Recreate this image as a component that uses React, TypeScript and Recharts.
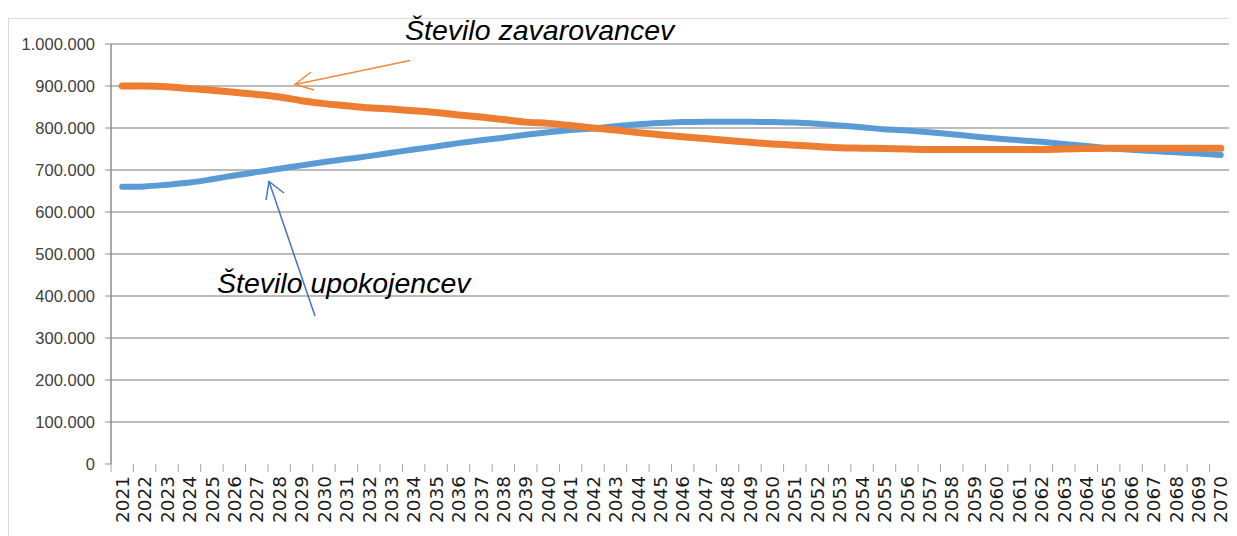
import { LineChart, Line, XAxis, YAxis, CartesianGrid } from "recharts"

// leta 2021–2070
const years = [
    "2021", "2022", "2023", "2024", "2025", "2026", "2027", "2028", "2029", "2030",
    "2031", "2032", "2033", "2034", "2035", "2036", "2037", "2038", "2039", "2040",
    "2041", "2042", "2043", "2044", "2045", "2046", "2047", "2048", "2049", "2050",
    "2051", "2052", "2053", "2054", "2055", "2056", "2057", "2058", "2059", "2060",
    "2061", "2062", "2063", "2064", "2065", "2066", "2067", "2068", "2069", "2070",
]

// število zavarovancev (v tisočih)
const zavarovanci = [
    900, 900, 898, 894, 890, 885, 880, 874, 865, 858,
    853, 848, 845, 841, 837, 831, 826, 820, 814, 811,
    806, 800, 795, 789, 784, 779, 775, 770, 766, 762,
    759, 756, 753, 752, 751, 750, 749, 749, 749, 749,
    749, 749, 750, 751, 752, 752, 752, 752, 752, 752,
]

// število upokojencev (v tisočih)
const upokojenci = [
    660, 661, 665, 670, 678, 687, 695, 703, 711, 719,
    726, 733, 741, 749, 756, 764, 771, 777, 784, 790,
    795, 799, 804, 809, 812, 814, 815, 815, 815, 814,
    813, 810, 806, 802, 797, 794, 790, 785, 780, 775,
    771, 767, 762, 757, 752, 748, 745, 742, 739, 736,
]

const yTicks = [0, 100000, 200000, 300000, 400000, 500000, 600000, 700000, 800000, 900000, 1000000]

const data = years.map((year, i) => ({
    year,
    zavarovanci: zavarovanci[i] * 1000,
    upokojenci: upokojenci[i] * 1000,
}))

const fmt = (v: number) => v.toLocaleString("de-DE")

const CHART_W = 1229
const PLOT_W = CHART_W - 103 - 5
const HALF_BAND = PLOT_W / years.length / 2

function YearTick(props: any) {
    const { x, y, payload } = props
    return (
        <g transform={`translate(${x},${y})`}>
            <line x1={-HALF_BAND} x2={-HALF_BAND} y1={0} y2={8} stroke="#a6a6a6" strokeWidth={1} />
            <text
                transform="rotate(-90)"
                x={-12}
                y={0}
                dy="0.36em"
                textAnchor="end"
                fontSize={18.5}
                fontFamily="DejaVu Sans"
                fill="#1a1a1a"
            >
                {payload.value}
            </text>
        </g>
    )
}

export default function App() {
    return (
        <div style={{ position: "relative", width: CHART_W, height: 528 }}>
            <div
                style={{
                    position: "absolute",
                    left: 0,
                    top: 10,
                    width: 1240,
                    height: 530,
                    border: "1px solid #d9d9d9",
                    boxSizing: "border-box",
                }}
            />
            <LineChart
                width={CHART_W}
                height={528}
                data={data}
                margin={{ top: 36, right: 5, left: 0, bottom: 0 }}
                style={{ position: "absolute", left: 0, top: 0 }}
            >
                <CartesianGrid
                    vertical={false}
                    stroke="#a6a6a6"
                    strokeWidth={1.5}
                    horizontalValues={yTicks.slice(1)}
                />
                <XAxis
                    dataKey="year"
                    interval={0}
                    height={72}
                    padding={{ left: HALF_BAND, right: HALF_BAND }}
                    axisLine={false}
                    tickLine={false}
                    tickSize={0}
                    tickMargin={0}
                    tick={<YearTick />}
                />
                <YAxis
                    domain={[0, 1000000]}
                    ticks={yTicks}
                    width={103}
                    tickFormatter={fmt}
                    axisLine={{ stroke: "#8c8c8c", strokeWidth: 1.5 }}
                    tickLine={{ stroke: "#8c8c8c" }}
                    tickSize={6}
                    tickMargin={10}
                    tick={{ fontSize: 16.5, fontFamily: "Liberation Sans", fill: "#404040" }}
                />
                <Line
                    dataKey="upokojenci"
                    type="monotone"
                    stroke="#5b9bd5"
                    strokeWidth={6}
                    strokeLinecap="round"
                    dot={false}
                    isAnimationActive={false}
                />
                <Line
                    dataKey="zavarovanci"
                    type="monotone"
                    stroke="#ed7d31"
                    strokeWidth={7}
                    strokeLinecap="round"
                    dot={false}
                    isAnimationActive={false}
                />
            </LineChart>
            <svg
                width={CHART_W}
                height={528}
                style={{ position: "absolute", left: 0, top: 0, pointerEvents: "none" }}
            >
                <g transform="translate(-8,-8)" fontFamily="Liberation Sans" fontStyle="italic" fontSize={28.5} fill="#000">
                    <text x={405} y={40}>Število zavarovancev</text>
                    <text x={217} y={293}>Število upokojencev</text>
                    <g stroke="#f28a3a" strokeWidth={1.5} fill="none">
                        <line x1={410} y1={60.5} x2={295} y2={84.5} />
                        <polyline points="311,72 295,84.5 314,90" />
                    </g>
                    <g stroke="#4472c4" strokeWidth={1.5} fill="none">
                        <line x1={315} y1={316} x2={269} y2={181.5} />
                        <polyline points="266,200 269,181.5 284,193" />
                    </g>
                </g>
            </svg>
        </div>
    )
}
